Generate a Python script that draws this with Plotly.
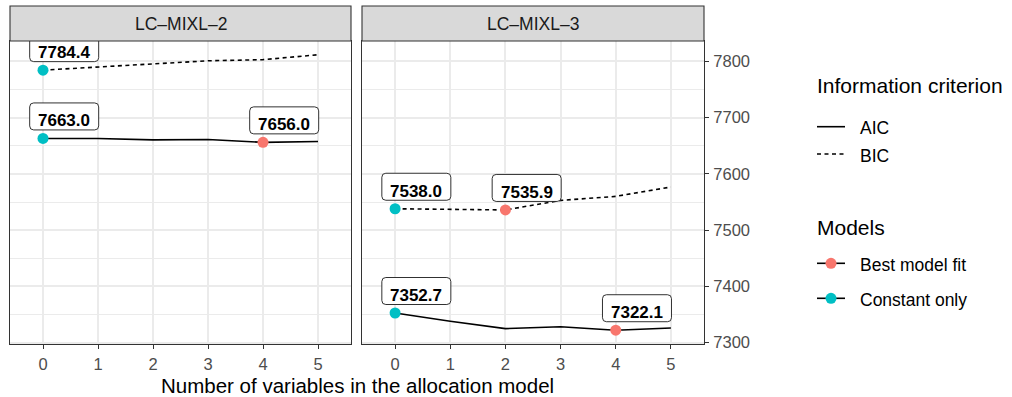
import plotly.graph_objects as go

# ---- data -------------------------------------------------------------
steps = [0, 1, 2, 3, 4, 5]
panel_titles = ["LC–MIXL–2", "LC–MIXL–3"]

aic_mixl2 = [7663.0, 7663.0, 7660.5, 7661.0, 7656.0, 7657.5]
bic_mixl2 = [7784.4, 7790.0, 7795.0, 7801.0, 7803.0, 7811.7]
aic_mixl3 = [7352.7, 7338.0, 7325.0, 7328.4, 7322.1, 7326.0]
bic_mixl3 = [7538.0, 7537.5, 7535.9, 7552.9, 7560.0, 7576.7]

# index of the best-fitting allocation model for each series
best_aic_mixl2 = 4
best_bic_mixl2 = 0
best_aic_mixl3 = 4
best_bic_mixl3 = 2

y_ticks = [7300, 7400, 7500, 7600, 7700, 7800]

criterion_names = ["AIC", "BIC"]
model_names = ["Best model fit", "Constant only"]

# ---- styling ----------------------------------------------------------
FONT = "Liberation Sans, Arial, Helvetica, sans-serif"
COL_BEST = "#F8766D"
COL_CONST = "#00BFC4"
GRID = "#EBEBEB"
FRAME = "#333333"
TICKTXT = "#4D4D4D"
LW = 1.6
DASH = "4px,3.5px"
DOT = 11

W, H = 1012, 397
L, R, T, B = 10, 704, 41, 344          # plotting region in px
PW, PH = R - L, B - T


def px_x(px):
    return (px - L) / PW


def px_y(py):
    return (B - py) / PH


panels = [
    dict(xa="x", ya="y", aic=aic_mixl2, bic=bic_mixl2,
         best_aic=best_aic_mixl2, best_bic=best_bic_mixl2),
    dict(xa="x2", ya="y2", aic=aic_mixl3, bic=bic_mixl3,
         best_aic=best_aic_mixl3, best_bic=best_bic_mixl3),
]

all_vals = aic_mixl2 + bic_mixl2 + aic_mixl3 + bic_mixl3
lo, hi = min(all_vals), max(all_vals)
pad = 0.05 * (hi - lo)
y_range = [lo - pad, hi + pad]

fig = go.Figure()

# value-label geometry (pixels)
LAB_DX = 0.385
BOX_W, BOX_H, BOX_GAP, BOX_R = 69, 27, 8.5, 4
TEXT_SHIFT = 17.5


def rounded_box(w, h, r, y0):
    x0, x1 = -w / 2, w / 2
    y1 = y0 + h
    return (f"M{x0 + r},{y0} L{x1 - r},{y0} Q{x1},{y0} {x1},{y0 + r} "
            f"L{x1},{y1 - r} Q{x1},{y1} {x1 - r},{y1} L{x0 + r},{y1} "
            f"Q{x0},{y1} {x0},{y1 - r} L{x0},{y0 + r} Q{x0},{y0} {x0 + r},{y0} Z")


shapes = []
annotations = []

for p in panels:
    for key, dash in (("aic", "solid"), ("bic", DASH)):
        fig.add_trace(go.Scatter(
            x=steps, y=p[key], mode="lines", xaxis=p["xa"], yaxis=p["ya"],
            line=dict(color="black", width=LW, dash=dash),
            showlegend=False, hoverinfo="skip"))

    const_x, const_y, best_x, best_y = [], [], [], []
    for key in ("aic", "bic"):
        vals = p[key]
        b = p["best_" + key]
        const_x.append(steps[0])
        const_y.append(vals[0])
        if b != 0:
            best_x.append(steps[b])
            best_y.append(vals[b])

    fig.add_trace(go.Scatter(
        x=best_x, y=best_y, mode="markers", xaxis=p["xa"], yaxis=p["ya"],
        marker=dict(color=COL_BEST, size=DOT), showlegend=False, hoverinfo="skip"))
    fig.add_trace(go.Scatter(
        x=const_x, y=const_y, mode="markers", xaxis=p["xa"], yaxis=p["ya"],
        marker=dict(color=COL_CONST, size=DOT), showlegend=False, hoverinfo="skip"))

    for xs, ys in ((const_x, const_y), (best_x, best_y)):
        for xv, yv in zip(xs, ys):
            shapes.append(dict(
                type="path", xref=p["xa"], yref=p["ya"],
                xsizemode="pixel", ysizemode="pixel",
                xanchor=xv + LAB_DX, yanchor=yv,
                path=rounded_box(BOX_W, BOX_H, BOX_R, BOX_GAP),
                fillcolor="white", line=dict(color="#1A1A1A", width=0.9),
                layer="above"))
            annotations.append(dict(
                xref=p["xa"], yref=p["ya"], x=xv + LAB_DX, y=yv,
                yshift=TEXT_SHIFT, showarrow=False, text=f"<b>{yv:.1f}</b>",
                font=dict(family=FONT, size=17, color="black")))

# facet strips
for xa, title in zip(("x", "x2"), panel_titles):
    shapes.append(dict(type="rect", xref=f"{xa} domain", yref="paper",
                       x0=0, x1=1, y0=1, y1=px_y(6),
                       fillcolor="#D9D9D9", line=dict(color=FRAME, width=1.1),
                       layer="above"))
    annotations.append(dict(xref=f"{xa} domain", yref="paper", x=0.5, y=px_y(24.5),
                            yanchor="middle", showarrow=False, text=title,
                            font=dict(family=FONT, size=17.5, color="#1A1A1A")))

annotations.append(dict(xref="paper", yref="paper", x=0.5, y=px_y(385.5),
                        yanchor="middle", showarrow=False,
                        text="Number of variables in the allocation model",
                        font=dict(family=FONT, size=20.5, color="black")))

# ---- legends (two keyed groups to the right of the panels) -------------
KEY_X0, KEY_X1, LEG_TXT_X, LEG_TITLE_X = 817, 845, 858, 815


def legend_title(text, cy):
    annotations.append(dict(xref="paper", yref="paper", x=px_x(LEG_TITLE_X),
                            y=px_y(cy + 1.5), xanchor="left", yanchor="middle",
                            showarrow=False, text=text,
                            font=dict(family=FONT, size=21, color="black")))


def legend_item(text, cy, dash="solid", dot_color=None):
    shapes.append(dict(type="line", xref="paper", yref="paper",
                       x0=px_x(KEY_X0), x1=px_x(KEY_X1), y0=px_y(cy), y1=px_y(cy),
                       line=dict(color="black", width=LW, dash=dash)))
    if dot_color:
        cx = (KEY_X0 + KEY_X1) / 2
        shapes.append(dict(type="circle", xref="paper", yref="paper",
                           xsizemode="pixel", ysizemode="pixel",
                           xanchor=px_x(cx), yanchor=px_y(cy),
                           x0=-DOT / 2, x1=DOT / 2, y0=-DOT / 2, y1=DOT / 2,
                           fillcolor=dot_color, line=dict(width=0)))
    annotations.append(dict(xref="paper", yref="paper", x=px_x(LEG_TXT_X),
                            y=px_y(cy + 1.5), xanchor="left", yanchor="middle",
                            showarrow=False, text=text,
                            font=dict(family=FONT, size=17.5, color="black")))


legend_title("Information criterion", 84)
legend_item(criterion_names[0], 126.7)
legend_item(criterion_names[1], 154, dash=DASH)
legend_title("Models", 226)
legend_item(model_names[0], 263.3, dot_color=COL_BEST)
legend_item(model_names[1], 298.3, dot_color=COL_CONST)

x_common = dict(range=[-0.6, 5.6], tickvals=steps, ticks="outside", ticklen=4,
                tickwidth=1.1, tickcolor=FRAME, ticklabelstandoff=1,
                tickfont=dict(family=FONT, size=16.5, color=TICKTXT),
                showgrid=True, gridcolor=GRID, gridwidth=1.6, zeroline=False,
                showline=True, mirror=True, linecolor=FRAME, linewidth=1.1)
y_common = dict(range=y_range, tickvals=y_ticks, showgrid=True, gridcolor=GRID,
                gridwidth=1.6, zeroline=False,
                minor=dict(dtick=50, tick0=7300, showgrid=True, gridcolor=GRID,
                           gridwidth=0.8),
                showline=True, mirror=True, linecolor=FRAME, linewidth=1.1)

fig.update_layout(
    width=W, height=H,
    margin=dict(l=L, r=W - R, t=T, b=H - B, pad=0),
    paper_bgcolor="white", plot_bgcolor="white",
    font=dict(family=FONT, color="black"),
    showlegend=False,
    xaxis=dict(domain=[0, px_x(351)], anchor="y", **x_common),
    xaxis2=dict(domain=[px_x(362), 1], anchor="y2", **x_common),
    yaxis=dict(anchor="x", showticklabels=False, ticks="", **y_common),
    yaxis2=dict(anchor="x2", matches="y", side="right", ticks="outside", ticklen=4,
                tickwidth=1.1, tickcolor=FRAME, ticklabelstandoff=1,
                tickfont=dict(family=FONT, size=16.5, color=TICKTXT), **y_common),
    shapes=shapes,
    annotations=annotations,
)

fig.write_html("out.html")
